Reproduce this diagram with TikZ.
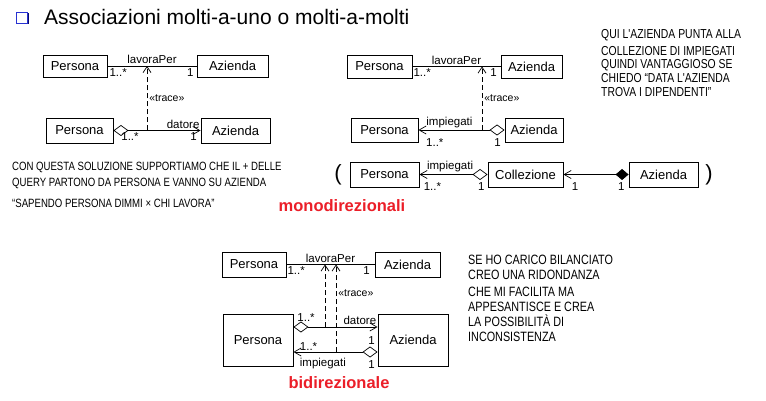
\documentclass[tikz,border=0pt]{standalone}
\usepackage{fontspec}
\setmainfont{Liberation Sans}
\newfontfamily\handfont[FakeStretch=0.8]{Liberation Sans}
\usetikzlibrary{arrows.meta,calc}
\definecolor{umlred}{RGB}{235,30,40}
\definecolor{umlblue}{RGB}{40,50,210}
\definecolor{umlnavy}{RGB}{10,10,110}

\tikzset{
  cls/.style={draw, line width=0.9pt, inner sep=0pt, font=\fontsize{13}{15}\selectfont},
  assoc/.style={line width=0.7pt},
  nav/.style={assoc, -{Straight Barb[length=7pt,width=8pt]}},
  agg/.style={assoc, {Diamond[open,length=15pt,width=11pt]}-{Straight Barb[length=7pt,width=8pt]}},
  comp/.style={assoc, {Diamond[length=13pt,width=11pt]}-{Straight Barb[length=7pt,width=8pt]}},
  tracedep/.style={assoc, dash pattern=on 5pt off 3pt, -{Straight Barb[length=6pt,width=8pt]}},
  mult/.style={font=\fontsize{11.5}{12}\selectfont, inner sep=2pt},
  lowmult/.style={mult, yshift=-6pt},
  role/.style={font=\fontsize{11.5}{13}\selectfont, inner sep=2pt},
  stereo/.style={font=\fontsize{10.5}{12}\selectfont, inner sep=2pt},
  kind/.style={text=umlred, font=\bfseries\fontsize{16.5}{18}\selectfont},
  hand/.style={anchor=west, inner sep=0pt},
}

\begin{document}
\begin{tikzpicture}[x=1pt,y=-1pt]
  \useasboundingbox (0,0) rectangle (766,401);

  % title
  \fill[umlnavy] (17.5,13.5) rectangle (29,24.5);
  \draw[umlblue, fill=white, line width=0.8pt] (16,12) rectangle (27.5,23);
  \node[anchor=base west, inner sep=0pt, font=\fontsize{21}{24}\selectfont] (title) at (44,25)
    {Associazioni molti-a-uno o molti-a-molti};

  % da Persona verso Azienda
  \node[cls, minimum width=64pt, minimum height=22pt] (pA1) at (75,66) {Persona};
  \node[cls, minimum width=71pt, minimum height=22pt] (aA1) at (232.5,66) {Azienda};
  \node[cls, minimum width=67pt, minimum height=25pt] (pA2) at (79.5,130.5) {Persona};
  \node[cls, minimum width=69pt, minimum height=25pt] (aA2) at (235.5,130.5) {Azienda};
  \draw[assoc] (pA1.east) -- node[role, above] {lavoraPer}
    node[mult, pos=0.12, below] {1..*} node[mult, pos=0.93, below] {1} (aA1.west);
  \draw[agg] (pA2.east) -- node[mult, pos=0.19, below] {1..*}
    node[role, pos=0.8, above] {datore} node[mult, pos=0.92, below] {1} (aA2.west);
  \coordinate (tA) at (147,130.5);
  \draw[tracedep] (tA) -- node[stereo, right] {«trace»} (tA |- pA1.east);

  % da Azienda verso Persona
  \node[cls, minimum width=65pt, minimum height=23pt] (pB1) at (379.5,66.5) {Persona};
  \node[cls, minimum width=61pt, minimum height=23pt] (aB1) at (531.5,66.5) {Azienda};
  \node[cls, minimum width=67pt, minimum height=24pt] (pB2) at (384.5,130) {Persona};
  \node[cls, minimum width=58pt, minimum height=24pt] (aB2) at (534,130) {Azienda};
  \draw[assoc] (pB1.east) -- node[role, above] {lavoraPer}
    node[mult, pos=0.11, below] {1..*} node[mult, pos=0.92, below] {1} (aB1.west);
  \draw[agg] (aB2.west) -- node[lowmult, pos=0.08, below] {1}
    node[role, pos=0.64, above] {impiegati} node[lowmult, pos=0.81, below] {1..*} (pB2.east);
  \coordinate (tB) at (482,130);
  \draw[tracedep] (tB) -- node[stereo, right] {«trace»} (tB |- pB1.east);

  % con la collezione
  \node[font=\fontsize{22}{24}\selectfont, inner sep=0pt] (lpar) at (338,175) {(};
  \node[cls, minimum width=69pt, minimum height=25pt] (pC) at (384.5,174.5) {Persona};
  \node[cls, minimum width=75pt, minimum height=25pt] (cC) at (525.5,174.5) {Collezione};
  \node[cls, minimum width=69pt, minimum height=25pt] (aC) at (663.5,174.5) {Azienda};
  \node[font=\fontsize{22}{24}\selectfont, inner sep=0pt] (rpar) at (709,175) {)};
  \draw[agg] (cC.west) -- node[lowmult, pos=0.09, below] {1}
    node[role, pos=0.55, above] {impiegati} node[lowmult, pos=0.81, below] {1..*} (pC.east);
  \draw[comp] (aC.west) -- node[lowmult, pos=0.11, below] {1}
    node[lowmult, pos=0.82, below] {1} (cC.east);
  \node[kind] (mono) at (342,206) {monodirezionali};

  % in tutte e due le direzioni
  \node[cls, minimum width=64pt, minimum height=25pt] (pD1) at (254,264.5) {Persona};
  \node[cls, minimum width=65pt, minimum height=25pt] (aD1) at (407.5,264.5) {Azienda};
  \node[cls, minimum width=70pt, minimum height=52pt] (pD2) at (258,340) {Persona};
  \node[cls, minimum width=70pt, minimum height=52pt] (aD2) at (413,340) {Azienda};
  \draw[assoc] (pD1.east) -- node[role, above] {lavoraPer}
    node[mult, pos=0.11, below] {1..*} node[mult, pos=0.91, below] {1} (aD1.west);
  \coordinate (dU) at ([yshift=13pt]pD2.east);
  \coordinate (dL) at ([yshift=-12pt]aD2.west);
  \draw[agg] (dU) -- node[mult, pos=0.15, above, yshift=3pt] {1..*}
    node[role, pos=0.79, above] {datore} (dU -| aD2.west);
  \draw[agg] (dL) -- node[mult, pos=0.07, above, yshift=5pt] {1}
    node[mult, pos=0.82, above, inner sep=1pt] {1..*}
    node[role, pos=0.65, below, yshift=-4pt] {impiegati}
    node[lowmult, pos=0.07, below] {1} (dL -| pD2.east);
  \coordinate (tD1) at (325,327);
  \coordinate (tD2) at (336,352);
  \draw[tracedep] (tD1) -- (tD1 |- pD1.east);
  \draw[tracedep] (tD2) -- node[stereo, right, pos=0.67] {«trace»} (tD2 |- pD1.east);
  \node[kind] (bidi) at (339,383) {bidirezionale};

  % appunti a mano
  \foreach \y/\t [count=\i] in {167/{CON QUESTA SOLUZIONE SUPPORTIAMO CHE IL + DELLE},
      183/{QUERY PARTONO DA PERSONA E VANNO SU AZIENDA},
      203/{“SAPENDO PERSONA DIMMI × CHI LAVORA”}}
    \node[hand, font=\handfont\fontsize{12}{13}\selectfont] (nL\i) at (12,\y) {\t};
  \foreach \y/\t [count=\i] in {35/{QUI L'AZIENDA PUNTA ALLA},
      51/{COLLEZIONE DI IMPIEGATI}, 65/{QUINDI VANTAGGIOSO SE},
      78/{CHIEDO “DATA L'AZIENDA}, 92/{TROVA I DIPENDENTI”}}
    \node[hand, font=\handfont\fontsize{13}{14}\selectfont] (nR\i) at (601,\y) {\t};
  \foreach \y/\t [count=\i] in {260/{SE HO CARICO BILANCIATO},
      275/{CREO UNA RIDONDANZA}, 292/{CHE MI FACILITA MA},
      307/{APPESANTISCE E CREA}, 321/{LA POSSIBILITÀ DI},
      337/{INCONSISTENZA}}
    \node[hand, font=\handfont\fontsize{13.5}{14}\selectfont] (nB\i) at (468,\y) {\t};
\end{tikzpicture}
\end{document}
